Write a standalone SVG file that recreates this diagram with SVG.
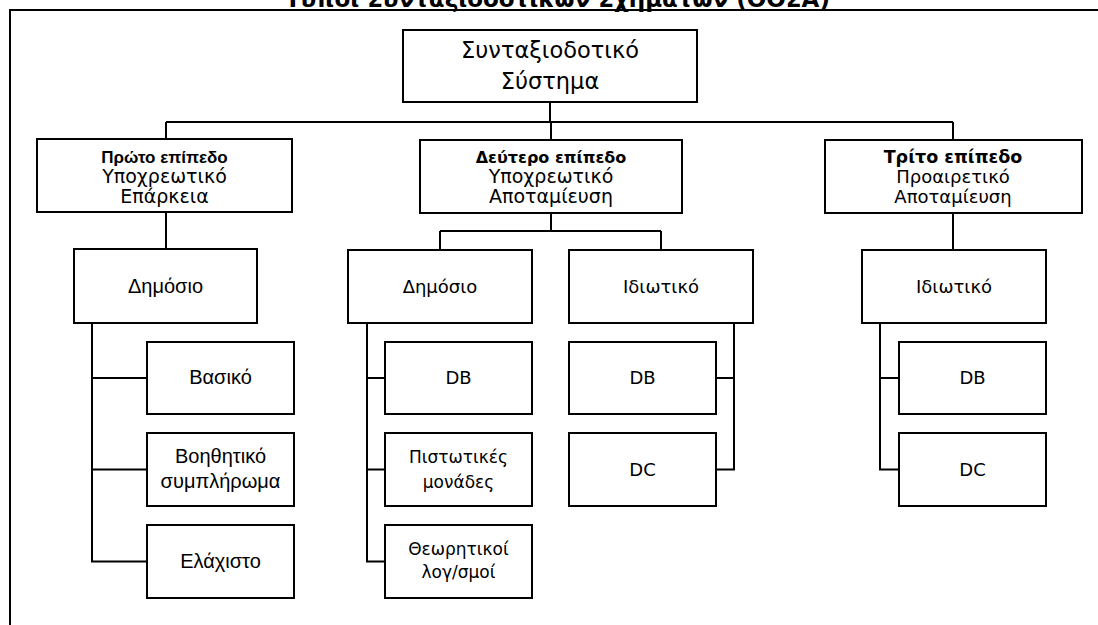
<svg xmlns="http://www.w3.org/2000/svg" width="1098" height="625" viewBox="0 0 1098 625">
<style>
.box{fill:#fff;stroke:#000;stroke-width:2}
.con{fill:none;stroke:#000;stroke-width:2}
.t{font-family:"DejaVu Sans",Tahoma,sans-serif;font-size:18px;text-anchor:middle;fill:#000}
.t2{font-family:"DejaVu Sans",Tahoma,sans-serif;font-size:17px;text-anchor:middle;fill:#000}
.t19{font-family:"DejaVu Sans",Tahoma,sans-serif;font-size:19px;text-anchor:middle;fill:#000}
.a{font-family:"Liberation Sans",Arial,sans-serif;font-size:20px;text-anchor:middle;fill:#000}
.tb{font-family:"DejaVu Sans",Tahoma,sans-serif;font-size:17.5px;font-weight:bold;text-anchor:middle;fill:#000}
.tbm{font-family:"DejaVu Sans",Tahoma,sans-serif;font-size:16px;font-weight:bold;text-anchor:middle;fill:#000}
.ab{font-family:"Liberation Sans",Arial,sans-serif;font-size:17px;font-weight:bold;text-anchor:middle;fill:#000}
.big{font-family:"DejaVu Sans",Tahoma,sans-serif;font-size:22.5px;text-anchor:middle;fill:#000}
.title{font-family:"DejaVu Sans",Tahoma,sans-serif;font-size:23px;font-weight:bold;text-anchor:middle;fill:#000}
</style>
<rect width="1098" height="625" fill="#fff"/>
<g id="frame">
<text class="title" x="557.5" y="7">Τύποι Συνταξιοδοτικών Σχημάτων (ΟΟΣΑ)</text>
<path class="con" d="M10,625 V10 H1098"/>
</g>
<g id="connectors">
<path class="con" d="M550,102 V122 M166,122 H953 M166,122 V139 M551,122 V139 M953,122 V140"/>
<path class="con" d="M166,212 V249 M92,323 V561.5 H147 M92,378 H147 M92,469.5 H147"/>
<path class="con" d="M551,213 V231 M440,231 H661 M440,231 V250 M661,231 V250"/>
<path class="con" d="M367,323 V561.5 H385 M367,378 H385 M367,469.5 H385"/>
<path class="con" d="M734,323 V469.5 H716 M716,378 H734"/>
<path class="con" d="M953,213 V250 M880,323 V469.5 H899 M880,378 H899"/>
</g>
<g id="root">
<rect class="box" x="403" y="30" width="294" height="72"/>
<text class="big" x="550" y="58">Συνταξιοδοτικό</text>
<text class="big" x="550" y="89">Σύστημα</text>
</g>
<g id="level1">
<rect class="box" x="37" y="139" width="255" height="73"/>
<text class="ab" x="164.5" y="163">Πρώτο επίπεδο</text>
<text class="t19" x="164.5" y="183">Υποχρεωτικό</text>
<text class="t19" x="164.5" y="203">Επάρκεια</text>
</g>
<g id="level2">
<rect class="box" x="420" y="140" width="262" height="73"/>
<text class="tbm" x="551" y="163">Δεύτερο επίπεδο</text>
<text class="t19" x="551" y="183">Υποχρεωτικό</text>
<text class="t19" x="551" y="203">Αποταμίευση</text>
</g>
<g id="level3">
<rect class="box" x="825" y="140" width="257" height="73"/>
<text class="tb" x="953" y="163">Τρίτο επίπεδο</text>
<text class="t" x="953" y="183">Προαιρετικό</text>
<text class="t" x="953" y="203">Αποταμίευση</text>
</g>
<g id="l1-public">
<rect class="box" x="74" y="249" width="183" height="74"/>
<text class="a" x="165.5" y="293">Δημόσιο</text>
</g>
<g id="l1-basic">
<rect class="box" x="147" y="342" width="147" height="72"/>
<text class="a" x="220.5" y="384">Βασικό</text>
</g>
<g id="l1-aux">
<rect class="box" x="147" y="433" width="147" height="73"/>
<text class="a" x="220.5" y="463">Βοηθητικό</text>
<text class="a" x="220.5" y="488">συμπλήρωμα</text>
</g>
<g id="l1-min">
<rect class="box" x="147" y="525" width="147" height="73"/>
<text class="a" x="220.5" y="568">Ελάχιστο</text>
</g>
<g id="l2-public">
<rect class="box" x="348" y="250" width="184" height="73"/>
<text class="t" x="440" y="293">Δημόσιο</text>
</g>
<g id="l2-private">
<rect class="box" x="569" y="250" width="184" height="73"/>
<text class="t" x="661" y="293">Ιδιωτικό</text>
</g>
<g id="l2-pub-db">
<rect class="box" x="385" y="342" width="147" height="72"/>
<text class="t" x="458.5" y="384">DB</text>
</g>
<g id="l2-pub-credits">
<rect class="box" x="385" y="433" width="147" height="73"/>
<text class="t2" x="458.5" y="463">Πιστωτικές</text>
<text class="t2" x="458.5" y="488">μονάδες</text>
</g>
<g id="l2-pub-notional">
<rect class="box" x="385" y="525" width="147" height="73"/>
<text class="t2" x="458.5" y="555">Θεωρητικοί</text>
<text class="t2" x="458.5" y="578">λογ/σμοί</text>
</g>
<g id="l2-priv-db">
<rect class="box" x="569" y="342" width="147" height="72"/>
<text class="t" x="642.5" y="384">DB</text>
</g>
<g id="l2-priv-dc">
<rect class="box" x="569" y="433" width="147" height="73"/>
<text class="t" x="642.5" y="476">DC</text>
</g>
<g id="l3-private">
<rect class="box" x="862" y="250" width="184" height="73"/>
<text class="t" x="954" y="293">Ιδιωτικό</text>
</g>
<g id="l3-db">
<rect class="box" x="899" y="342" width="147" height="72"/>
<text class="t" x="972.5" y="384">DB</text>
</g>
<g id="l3-dc">
<rect class="box" x="899" y="433" width="147" height="73"/>
<text class="t" x="972.5" y="476">DC</text>
</g>
</svg>
